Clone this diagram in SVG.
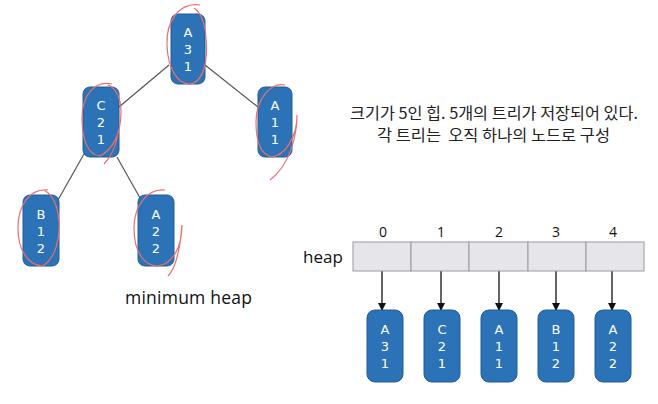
<svg xmlns="http://www.w3.org/2000/svg" width="658" height="404" viewBox="0 0 658 404">
<style>
.node rect{fill:#2b73b6;stroke:#1e5c97;stroke-width:1}
.node text{fill:#fff;font-family:"DejaVu Sans",sans-serif;font-size:13px;text-anchor:middle}
.red{fill:none;stroke:#e8706e;stroke-width:1.2}
.edge{stroke:#555;stroke-width:1.2;fill:none}
.arr{stroke:#111;stroke-width:1.3;fill:none;marker-end:url(#ah)}
.lbl{font-family:"Open Sans","Liberation Sans",sans-serif;fill:#111}
.cell{fill:#e6e6ea;stroke:#9a9a9e;stroke-width:1}
</style>
<defs>
<marker id="ah" markerWidth="8" markerHeight="8" refX="7" refY="4" orient="auto" markerUnits="userSpaceOnUse">
<path d="M0,0 L8,4 L0,8 Z" fill="#111"/>
</marker>
</defs>
<rect width="658" height="404" fill="#fff"/>
<g id="connectors">
<line class="edge" x1="169" y1="65" x2="119" y2="107"/>
<line class="edge" x1="205" y1="65" x2="258" y2="107"/>
<line class="edge" x1="84" y1="154" x2="58" y2="200"/>
<line class="edge" x1="117" y1="157" x2="140" y2="198"/>
<line class="arr" x1="382" y1="257" x2="382" y2="310"/>
<line class="arr" x1="441" y1="257" x2="441" y2="310"/>
<line class="arr" x1="499" y1="257" x2="499" y2="310"/>
<line class="arr" x1="556" y1="257" x2="556" y2="310"/>
<line class="arr" x1="612" y1="257" x2="612" y2="310"/>
</g>
<g id="tA31" class="node"><rect x="171" y="14" width="34" height="70" rx="7"/><text x="188" y="37">A</text><text x="188" y="54">3</text><text x="188" y="71">1</text></g>
<g id="tC21" class="node"><rect x="83" y="87" width="36" height="70" rx="7"/><text x="101" y="110">C</text><text x="101" y="127">2</text><text x="101" y="144">1</text></g>
<g id="tA11" class="node"><rect x="258" y="87" width="34" height="70" rx="7"/><text x="275" y="110">A</text><text x="275" y="127">1</text><text x="275" y="144">1</text></g>
<g id="tB12" class="node"><rect x="23" y="195" width="36" height="71" rx="7"/><text x="41" y="219">B</text><text x="41" y="236">1</text><text x="41" y="253">2</text></g>
<g id="tA22" class="node"><rect x="138" y="195" width="36" height="71" rx="7"/><text x="156" y="219">A</text><text x="156" y="236">2</text><text x="156" y="253">2</text></g>
<g id="marks">
<path class="red" d="M200,5 C180,2 166,20 167,45 C168,70 178,84 190,84 C204,82 208,60 206,38 C205,22 200,12 194,8"/>
<path class="red" d="M112,84 C95,80 82,95 82,118 C82,140 88,155 100,156 C112,150 121,135 121,112 C121,98 116,88 108,85 M118,132 C116,148 110,158 104,164"/>
<path class="red" d="M285,85 C270,82 256,100 256,122 C256,143 262,155 272,157 C285,155 297,138 297,115 C297,135 290,165 270,180"/>
<path class="red" d="M48,190 C30,188 18,205 18,228 C18,250 28,265 42,266 C52,262 60,245 59,222 C58,205 52,194 45,191"/>
<path class="red" d="M165,190 C148,188 134,205 134,228 C134,252 144,266 158,266 C172,264 182,248 182,225 C180,250 176,268 168,276"/>
</g>
<g id="heap">
<rect class="cell" x="353" y="242" width="58" height="29"/>
<rect class="cell" x="411" y="242" width="58" height="29"/>
<rect class="cell" x="469" y="242" width="59" height="29"/>
<rect class="cell" x="528" y="242" width="58" height="29"/>
<rect class="cell" x="586" y="242" width="58" height="29"/>
<text class="lbl" x="303" y="263" font-size="17">heap</text>
<g font-size="14" text-anchor="middle" class="lbl">
<text class="lbl" x="383" y="237">0</text>
<text class="lbl" x="441" y="237">1</text>
<text class="lbl" x="499" y="237">2</text>
<text class="lbl" x="556" y="237">3</text>
<text class="lbl" x="613" y="237">4</text>
</g>
</g>
<g id="hA31" class="node"><rect x="367" y="310" width="36" height="72" rx="8"/><text x="385" y="334">A</text><text x="385" y="351">3</text><text x="385" y="368">1</text></g>
<g id="hC21" class="node"><rect x="424" y="310" width="36" height="72" rx="8"/><text x="442" y="334">C</text><text x="442" y="351">2</text><text x="442" y="368">1</text></g>
<g id="hA11" class="node"><rect x="481" y="310" width="36" height="72" rx="8"/><text x="499" y="334">A</text><text x="499" y="351">1</text><text x="499" y="368">1</text></g>
<g id="hB12" class="node"><rect x="538" y="310" width="36" height="72" rx="8"/><text x="556" y="334">B</text><text x="556" y="351">1</text><text x="556" y="368">2</text></g>
<g id="hA22" class="node"><rect x="595" y="310" width="36" height="72" rx="8"/><text x="613" y="334">A</text><text x="613" y="351">2</text><text x="613" y="368">2</text></g>
<g id="captions" font-family="'Noto Sans CJK KR','Noto Sans',sans-serif" fill="#222">
<text x="350" y="119" font-size="15.5" textLength="288" lengthAdjust="spacingAndGlyphs">크기가 5인 힙. 5개의 트리가 저장되어 있다.</text>
<text x="377" y="141" font-size="15.5" textLength="233" lengthAdjust="spacingAndGlyphs" xml:space="preserve">각 트리는  오직 하나의 노드로 구성</text>
<text x="125" y="304" font-size="17.5" textLength="127" font-family="'Open Sans','Liberation Sans',sans-serif" fill="#111">minimum heap</text>
</g>
</svg>
